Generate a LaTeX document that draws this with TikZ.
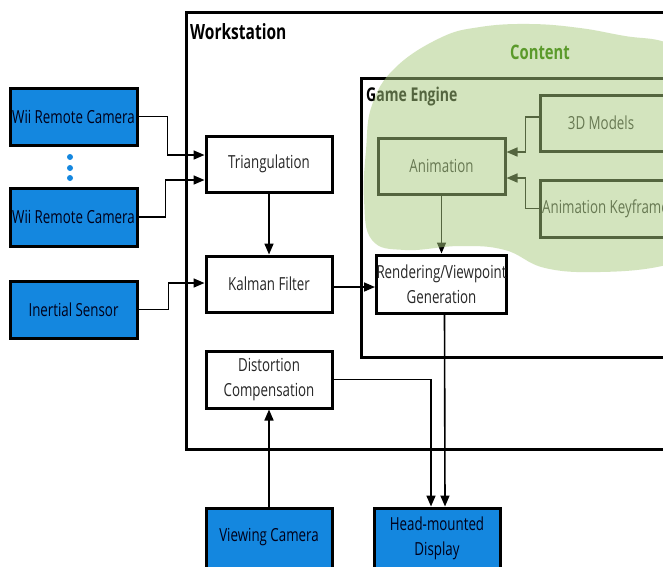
\documentclass[tikz,border=0pt]{standalone}
\usepackage{fontspec}
\setmainfont{Open Sans}[FakeStretch=0.74]
\usetikzlibrary{arrows.meta,calc}
\definecolor{boxblue}{HTML}{1487DF}
\definecolor{cloudc}{HTML}{A9CB7F}
\definecolor{contentc}{HTML}{5B9A2B}
\tikzset{
  txt/.style={font=\fontsize{18}{21}\selectfont},
  box/.style={draw=black, line width=3pt, fill=white, inner sep=0pt, align=center, txt, text=black!85},
  bluebox/.style={box, fill=boxblue, text=black!90!blue},
  frame/.style={draw=black, line width=3pt},
  arr/.style={line width=1.6pt, -{Triangle[length=11pt,width=9pt]}},
  title/.style={font=\bfseries\fontsize{21}{24}\selectfont, anchor=base west, inner sep=0pt}
}
\begin{document}
\begin{tikzpicture}[x=1pt,y=-1pt]
\useasboundingbox (0,0) rectangle (663,566);
\clip (0,0) rectangle (663,566);
\fill[white] (0,0) rectangle (663,566);
% frames
\draw[frame] (186,12) rectangle (720,449);
\node[title] (ws) at (190,39) {Workstation};
\draw[frame] (361,78) rectangle (720,357);
\node[title, font=\bfseries\fontsize{19}{22}\selectfont] (ge) at (366,101) {Game Engine};
% nodes
\node[bluebox, minimum width=127, minimum height=57] (wii1) at (73.5,116.5) {Wii Remote Camera};
\node[bluebox, minimum width=127, minimum height=58] (wii2) at (73.5,217) {Wii Remote Camera};
\node[bluebox, minimum width=127, minimum height=57] (ins) at (73.5,309.5) {Inertial Sensor};
\node[box, minimum width=126, minimum height=56] (tri) at (269,164) {Triangulation};
\node[box, minimum width=126, minimum height=56] (kal) at (269,284) {Kalman Filter};
\node[box, minimum width=126, minimum height=57] (dist) at (269,379.5) {Distortion\\[4pt]Compensation};
\node[box, minimum width=127, minimum height=56] (anim) at (441.5,166) {Animation};
\node[box, minimum width=160, minimum height=56] (models) at (620,123) {};
\node[txt, text=black!85, inner sep=0pt] (modelsT) at (601,123) {3D Models};
\node[box, minimum width=160, minimum height=57] (key) at (620,208.5) {};
\node[txt, text=black!85, inner sep=0pt, anchor=west] (keyT) at (542,208.5) {Animation Keyframes};
\node[box, minimum width=127, minimum height=58] (rend) at (441.5,284) {Rendering/Viewpoint\\[4pt]Generation};
\node[bluebox, minimum width=126, minimum height=64] (view) at (269,540) {};
\node[txt, text=black!90!blue, inner sep=0pt] (viewT) at (269,537) {Viewing Camera};
\node[bluebox, minimum width=126, minimum height=64] (hmd) at (437,540) {};
\node[txt, text=black!90!blue, inner sep=0pt, align=center] (hmdT) at (437,538) {Head-mounted\\[4pt]Display};
% dots
\foreach \yy [count=\i] in {157,168,178} \fill[boxblue] (70,\yy) circle (3) coordinate (dot\i);
% connectors
\draw[arr] (wii1.east) -- ++(29,0) |- ($(tri.west)+(0,-9)$);
\draw[arr] (wii2.east) -- ++(27,0) |- ($(tri.west)+(0,16)$);
\draw[arr] (ins.east) -- ++(30,0) |- ($(kal.west)+(0,-1)$);
\draw[arr] (tri.south) -- (kal.north);
\draw[arr] ($(kal.east)+(0,3)$) -- ($(rend.west)+(0,3)$);
\draw[arr] (anim.south) -- (rend.north);
\draw[arr] ($(models.west)+(0,-6)$) -- ++(-13,0) |- ($(anim.east)+(0,-14)$);
\draw[arr] (key.west) -- ++(-13,0) |- ($(anim.east)+(0,12)$);
\draw[arr] (dist.east) -| ($(hmd.north)+(-6,0)$);
\draw[arr] ($(rend.south)+(3,0)$) -- ($(hmd.north)+(8,0)$);
\draw[arr] (view.north) -- (dist.south);
% content cloud
\fill[cloudc, fill opacity=0.5] plot[smooth cycle, tension=0.7] coordinates {
 (440,38) (480,27) (530,24) (580,28) (625,36) (665,42) (700,60) (700,250)
 (662,266) (600,272) (545,268) (505,250) (460,246) (405,250) (372,240)
 (364,200) (366,150) (372,105) (395,68)};
\node[font=\bfseries\fontsize{20}{24}\selectfont, text=contentc, inner sep=0pt] (content) at (540,52) {Content};
\end{tikzpicture}
\end{document}
